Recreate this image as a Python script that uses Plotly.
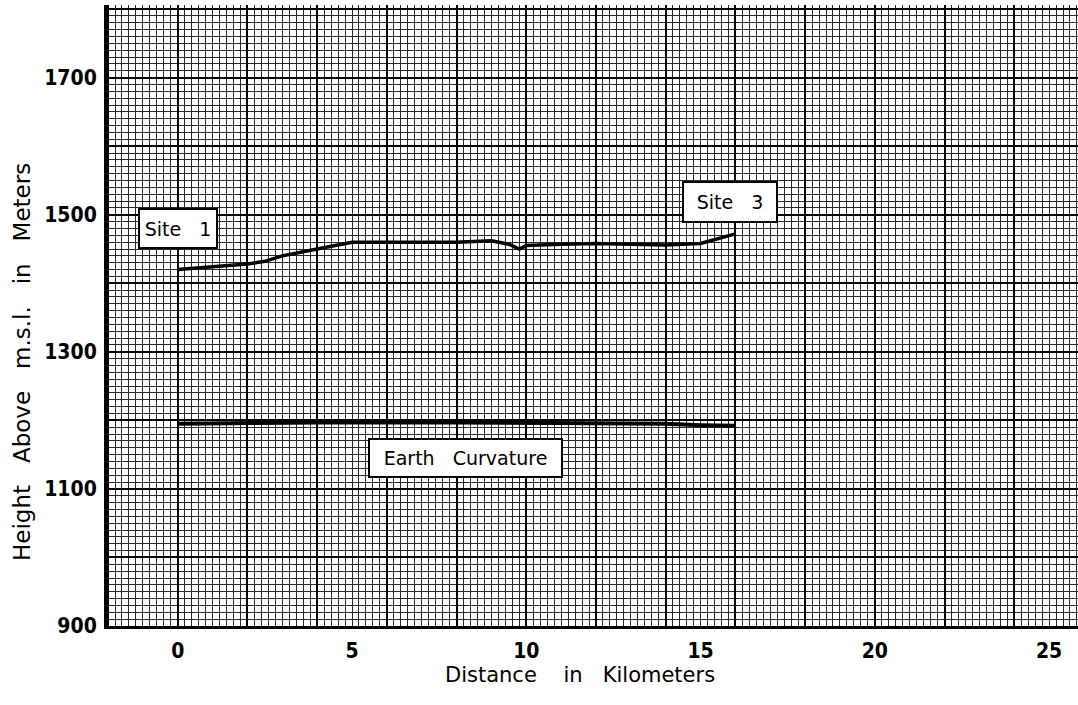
import plotly.graph_objects as go

# Terrain profile between Site 1 and Site 3 (km, m above m.s.l.)
profile_km = [0, 0.5, 1, 2, 2.5, 3, 4, 5, 6, 7, 8, 9, 9.5, 9.8, 10, 11, 12, 13, 14, 15, 15.5, 16]
profile_m = [1420, 1422, 1425, 1428, 1432, 1440, 1450, 1460, 1460, 1460, 1460, 1462, 1457, 1450, 1455, 1457, 1458, 1457, 1456, 1458, 1465, 1472]

# Earth curvature reference line
curv_km = [0, 4, 8, 12, 14, 15, 16]
curv_m = [1195, 1197, 1197, 1196, 1195, 1193, 1192]

x_ticks = [0, 5, 10, 15, 20, 25]
y_ticks = [900, 1100, 1300, 1500, 1700]

labels = [
    ("Site\u00a0\u00a0 1", 0.0, 1480, 72, 33),
    ("Site\u00a0\u00a0 3", 15.84, 1519, 88, 34),
    ("Earth\u00a0\u00a0 Curvature", 8.26, 1145, 187, 32),
]

X_RANGE = [-2.03, 25.83]
Y_RANGE = [900, 1806]

fig = go.Figure()

# invisible trace to anchor the grid axes
fig.add_trace(go.Scatter(x=X_RANGE, y=Y_RANGE, xaxis="x2", yaxis="y2",
                         mode="markers", marker=dict(opacity=0), hoverinfo="skip",
                         showlegend=False))

fig.add_trace(go.Scatter(x=profile_km, y=profile_m, mode="lines",
                         line=dict(color="black", width=3.5), showlegend=False))
fig.add_trace(go.Scatter(x=curv_km, y=curv_m, mode="lines",
                         line=dict(color="black", width=4), showlegend=False))

tick_font = dict(family="DejaVu Sans Condensed, Liberation Sans Narrow, sans-serif",
                 size=21, color="black", weight="bold")
title_font = dict(family="DejaVu Sans, sans-serif", size=21, color="black")

fig.update_layout(
    width=1078, height=705,
    margin=dict(l=107, r=0, t=5, b=79, autoexpand=False),
    paper_bgcolor="white", plot_bgcolor="white",
    xaxis=dict(range=X_RANGE, tickvals=x_ticks, showgrid=False, zeroline=False,
               ticks="", tickfont=tick_font, showline=True, linecolor="black", linewidth=3,
               automargin=False, ticklabelstandoff=4),
    yaxis=dict(range=Y_RANGE, tickvals=y_ticks, showgrid=False, zeroline=False,
               ticks="", tickfont=tick_font, showline=True, linecolor="black", linewidth=3,
               automargin=False, ticklabelstandoff=3),
    xaxis2=dict(range=X_RANGE, overlaying="x", anchor="y2", side="bottom",
                tick0=0, dtick=2, showgrid=True, gridcolor="black", gridwidth=2,
                showticklabels=False, ticks="", zeroline=False, automargin=False,
                minor=dict(tick0=0, dtick=0.2, showgrid=True, gridcolor="#2a2a2a", gridwidth=1)),
    yaxis2=dict(range=Y_RANGE, overlaying="y", anchor="x2", side="left",
                tick0=900, dtick=100, showgrid=True, gridcolor="black", gridwidth=2,
                showticklabels=False, ticks="", zeroline=False, automargin=False,
                minor=dict(tick0=900, dtick=10, showgrid=True, gridcolor="#2a2a2a", gridwidth=1)),
)

for text, xv, yv, w, h in labels:
    fig.add_annotation(x=xv, y=yv, xref="x", yref="y", text=text, showarrow=False,
                       font=dict(family="DejaVu Sans, sans-serif", size=19, color="black"),
                       bgcolor="white", bordercolor="black", borderwidth=2, borderpad=2,
                       width=w, height=h, align="center", valign="middle")

fig.add_annotation(text="Distance\u00a0\u00a0\u00a0 in\u00a0\u00a0 Kilometers",
                   xref="paper", yref="paper", x=(580 - 107) / 971, y=-(675 - 626) / 621,
                   showarrow=False, font=title_font, yanchor="middle", xanchor="center")
fig.add_annotation(text="Height\u00a0\u00a0 Above\u00a0\u00a0 m.s.l.\u00a0\u00a0 in\u00a0\u00a0 Meters",
                   xref="paper", yref="paper", x=-(107 - 22) / 971, y=(626 - 362) / 621,
                   showarrow=False, font=dict(family="DejaVu Sans, sans-serif", size=23, color="black"),
                   textangle=-90, yanchor="middle", xanchor="center")

fig.write_html("out.html", post_script="document.body.style.margin='0';",
               config={"displayModeBar": False})
